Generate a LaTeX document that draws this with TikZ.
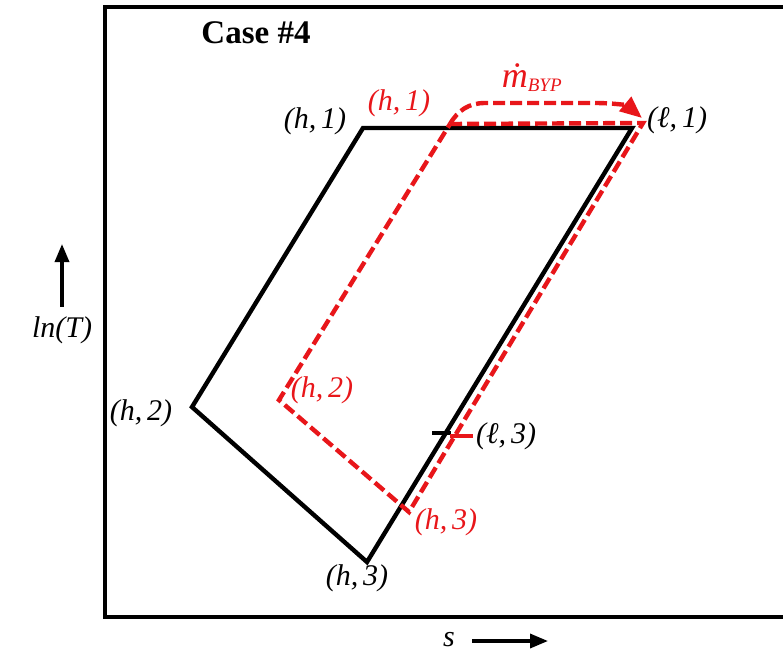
\documentclass[tikz,border=0pt]{standalone}
\usepackage{fontspec}
\setmainfont{Liberation Serif}
\usetikzlibrary{arrows.meta}
\definecolor{bypred}{RGB}{232,22,26}

\begin{document}
\begin{tikzpicture}[x=1pt, y=-1pt, font=\fontsize{30}{32}\selectfont\itshape,
    cycleline/.style={line width=4.4pt, line join=miter},
    bypline/.style={bypred, line width=4.4pt, dash pattern=on 12pt off 5pt},
    redlabel/.style={text=bypred}]
  \clip (0,0) rectangle (783,659);
  % --- frame (right side runs off the picture) ---
  \draw[line width=4.5pt] (800,7) -- (105,7) -- (105,617) -- (800,617);
  \node[font=\fontsize{33}{35}\selectfont\bfseries] (title) at (256,33) {Case \#4};
  % --- axes ---
  \node (lnT) at (62,330) {ln(T)};
  \coordinate (lnTtip) at (62,244);
  \draw[line width=3.4pt, -{Triangle[length=18pt, width=14pt]}] (lnT.north) ++(0,-6) -- (lnTtip);
  \node (sax) at (449,640) {s};
  \coordinate (stip) at (548,641);
  \draw[line width=3.4pt, -{Triangle[length=18pt, width=14pt]}] (472,641) -- (stip);
  % --- black cycle ---
  \coordinate (h1) at (363,128);
  \coordinate (l1) at (632,128);
  \coordinate (h3) at (367,562);
  \coordinate (h2) at (192,407);
  \draw[cycleline] (h1) -- (l1) -- (h3) -- (h2) -- cycle;
  \coordinate (l3) at (446,433);
  \draw[line width=4.4pt] ([xshift=-14pt]l3) -- ([xshift=5pt]l3);
  \node (h1lab) at (315,121) {(h,\,1)};
  \node (h2lab) at (141,413) {(h,\,2)};
  \node (h3lab) at (357,578) {(h,\,3)};
  \node (l1lab) at (677,120) {(ℓ,\,1)};
  \node (l3lab) at (506,436) {(ℓ,\,3)};
  % --- red cycle with bypass ---
  \coordinate (rh1) at (450,124);
  \coordinate (rl1) at (643,123);
  \coordinate (rh3) at (409,512);
  \coordinate (rh2) at (279,400);
  \draw[bypline, line join=miter] (rh1) -- (rl1) -- (rh3) -- (rh2) -- cycle;
  \draw[bypred, line width=4.4pt] ([xshift=4pt,yshift=-3pt]l3) -- ([xshift=27pt,yshift=-3pt]l3);
  \coordinate (byptip) at (642,118);
  \draw[bypline, -{Triangle[length=22pt, width=18pt]}]
    (rh1) to[out=60, in=180] (485,103) -- (595,103) to[out=0, in=140] (byptip);
  \node[redlabel] (rh1lab) at (399,103) {(h,\,1)};
  \node[redlabel] (rh2lab) at (322,390) {(h,\,2)};
  \node[redlabel] (rh3lab) at (446,522) {(h,\,3)};
  \node[redlabel, font=\fontsize{36}{38}\selectfont\itshape] (mbyp) at (532,78)
    {\.{m}\textsubscript{\fontsize{19}{20}\selectfont BYP}};
\end{tikzpicture}
\end{document}
